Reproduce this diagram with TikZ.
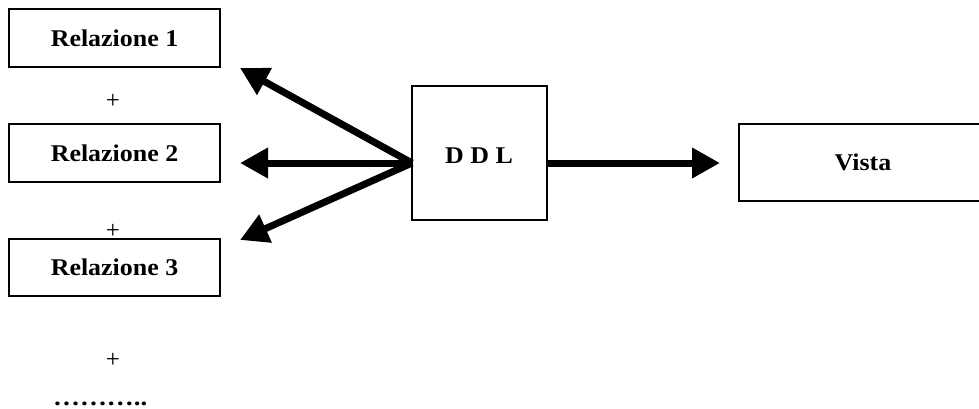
\documentclass[tikz,border=0pt]{standalone}
\usepackage{fontspec}
\setmainfont{Liberation Serif}
\usetikzlibrary{arrows.meta}
\tikzset{
  px/.style={x=1pt,y=-1pt},
  box/.style={draw=black,line width=1.3pt,inner sep=0pt,anchor=center},
  lbl/.style={font=\fontsize{24}{27}\selectfont\bfseries},
  plus/.style={font=\fontsize{25}{27}\selectfont,inner sep=0pt},
  fat/.style={line width=7pt,-{Triangle[length=28pt,width=29pt]}},
}
\newcommand{\hwide}[1]{\scalebox{1.08}[1]{#1}}
\begin{document}
\begin{tikzpicture}[px]
\clip (0,0) rectangle (979,409);
\fill[white] (0,0) rectangle (979,409);
\node[box,minimum width=211pt,minimum height=58pt,lbl] (r1) at (114.5,38) {\hwide{Relazione 1}};
\node[box,minimum width=211pt,minimum height=58pt,lbl] (r2) at (114.5,153) {\hwide{Relazione 2}};
\node[box,minimum width=211pt,minimum height=57pt,lbl] (r3) at (114.5,267.5) {\hwide{Relazione 3}};
\node[box,minimum width=135pt,minimum height=134pt] (ddl) at (479.5,153) {};
\node[lbl] (ddlt) at (479,156) {\hwide{D D L}};
\node[box,minimum width=248pt,minimum height=77pt,lbl] (vista) at (863,162.5) {\hwide{Vista}};
\node[plus] (p1) at (113,101) {+};
\node[plus] (p2) at (113,231) {+};
\node[plus] (p3) at (113,360) {+};
\node[lbl,anchor=base west,inner sep=0pt] (dots) at (53,405) {\scalebox{1.12}[1]{………..}};
\coordinate (o) at (412,163);
\coordinate (o2) at (547,163);
\coordinate (t1) at (240,68);
\coordinate (t2) at (240,163);
\coordinate (t3) at (240,240);
\coordinate (t4) at (720,163);
\draw[fat] (o) -- (t1);
\draw[fat] (o) -- (t2);
\draw[fat] (o) -- (t3);
\draw[fat] (o2) -- (t4);
\end{tikzpicture}
\end{document}
